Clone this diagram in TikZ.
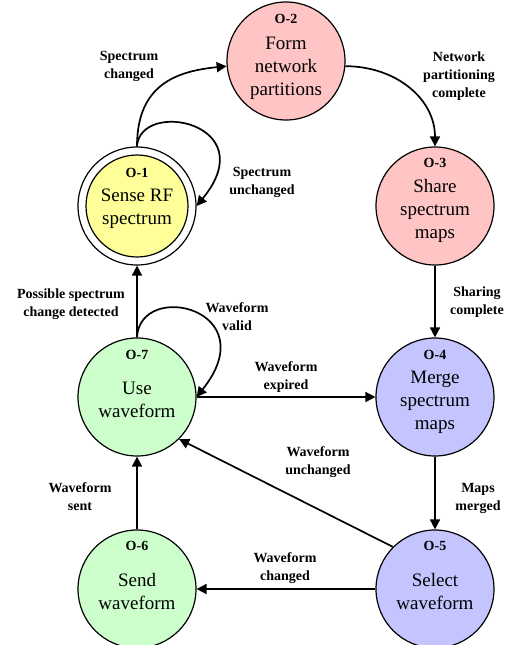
\documentclass[tikz,border=0pt]{standalone}
\usepackage{fontspec}
\setmainfont{Liberation Serif}
\usetikzlibrary{arrows.meta}
\definecolor{senseyellow}{RGB}{255,255,153}
\definecolor{netpink}{RGB}{255,196,196}
\definecolor{maplav}{RGB}{196,196,255}
\definecolor{wavegreen}{RGB}{204,255,204}
\begin{document}
\begin{tikzpicture}[x=1pt,y=-1pt,
  state/.style={circle,draw,line width=1.2pt,minimum size=118pt,inner sep=0pt},
  txt/.style={align=center,font=\fontsize{19}{23}\selectfont},
  tag/.style={font=\fontsize{14}{16}\selectfont\bfseries},
  lbl/.style={align=center,font=\fontsize{14}{18}\selectfont\bfseries},
  arr/.style={line width=1.7pt,-{Triangle[length=10pt,width=10pt]}}]
\useasboundingbox (0,0) rectangle (506,645);

% states
\node[state,fill=white] (o1) at (137,206) {};
\node[state,fill=senseyellow,minimum size=102pt] (o1in) at (137,206) {};
\node[state,fill=netpink] (o2) at (286,61) {};
\node[state,fill=netpink] (o3) at (435,206) {};
\node[state,fill=maplav] (o4) at (435,397) {};
\node[state,fill=maplav] (o5) at (435,589) {};
\node[state,fill=wavegreen] (o6) at (137,589) {};
\node[state,fill=wavegreen] (o7) at (137,397) {};

% state texts
\node[tag] (t1) at (137,173) {O-1};
\node[txt] (s1) at (137,208.5) {Sense RF\\spectrum};
\node[tag] (t2) at (286,19) {O-2};
\node[txt] (s2) at (286,68) {Form\\network\\partitions};
\node[tag] (t3) at (435,163) {O-3};
\node[txt] (s3) at (435,210.5) {Share\\spectrum\\maps};
\node[tag] (t4) at (435,355) {O-4};
\node[txt] (s4) at (435,402.5) {Merge\\spectrum\\maps};
\node[tag] (t5) at (435,546) {O-5};
\node[txt] (s5) at (435,591) {Select\\waveform};
\node[tag] (t6) at (137,546) {O-6};
\node[txt] (s6) at (137,591) {Send\\waveform};
\node[tag] (t7) at (137,355) {O-7};
\node[txt] (s7) at (137,400) {Use\\waveform};

% transitions
\draw[arr] (o1.north) .. controls +(0,-62) and +(-50,5) .. (o2.185);
\draw[arr] (o1.north) .. controls +(3,-48) and +(68,-83) .. (o1.east);
\draw[arr] (o2.-5) .. controls +(50,0) and +(0,-48) .. (o3.north);
\draw[arr] (o3.south) -- (o4.north);
\draw[arr] (o4.south) -- (o5.north);
\draw[arr] (o5.west) -- (o6.east);
\draw[arr] (o5.135) -- (o7.-45);
\draw[arr] (o6.north) -- (o7.south);
\draw[arr] (o7.north) -- (o1.south);
\draw[arr] (o7.north) .. controls +(3,-58) and +(70,-88) .. (o7.east);
\draw[arr] (o7.east) -- (o4.west);

% transition labels
\node[lbl] (l1) at (129,66) {Spectrum\\changed};
\node[lbl] (l2) at (459,76) {Network\\partitioning\\complete};
\node[lbl] (l3) at (262,182) {Spectrum\\unchanged};
\node[lbl] (l4) at (71,304) {Possible spectrum\\change detected};
\node[lbl] (l5) at (237,317) {Waveform\\valid};
\node[lbl] (l6) at (286,377) {Waveform\\expired};
\node[lbl] (l7) at (477,302) {Sharing\\complete};
\node[lbl] (l8) at (318,462) {Waveform\\unchanged};
\node[lbl] (l9) at (478,498) {Maps\\merged};
\node[lbl] (l10) at (80,497) {Waveform\\sent};
\node[lbl] (l11) at (285,568) {Waveform\\changed};
\end{tikzpicture}
\end{document}
